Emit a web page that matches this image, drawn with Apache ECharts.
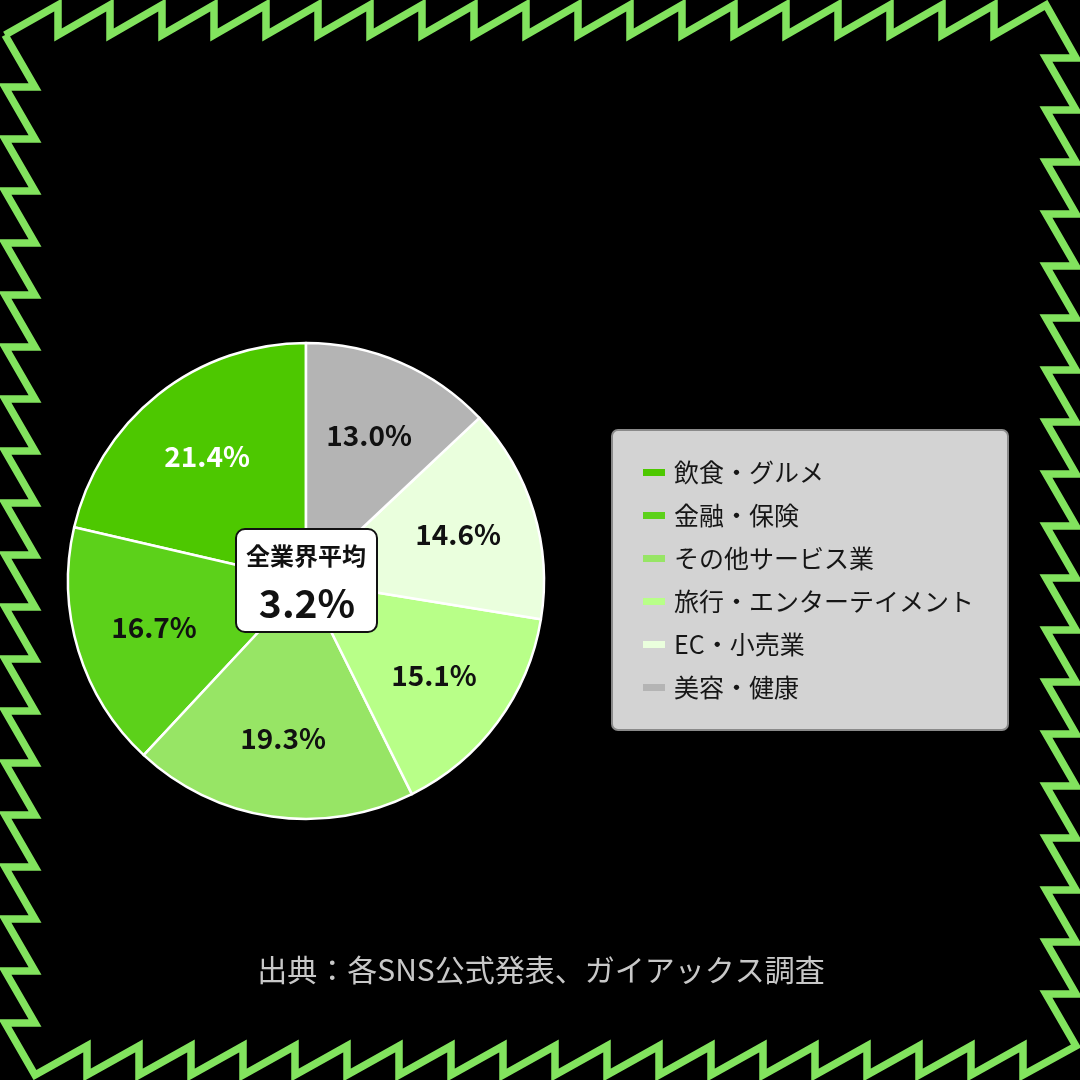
<!DOCTYPE html>
<html>
<head>
<meta charset="utf-8">
<script src="https://cdn.jsdelivr.net/npm/echarts@6/dist/echarts.min.js"></script>
<style>
  html, body { margin: 0; padding: 0; background: #000; }
  #chart { width: 1080px; height: 1080px; }
</style>
</head>
<body>
<div id="chart"></div>
<script>
// 業界ごとの割合（凡例の順）
const categories = ['飲食・グルメ', '金融・保険', 'その他サービス業', '旅行・エンターテイメント', 'EC・小売業', '美容・健康']
const shares = [21.4, 16.7, 19.3, 15.1, 14.6, 13.0]
const sliceColors = ['#4DC800', '#5CD11A', '#97E565', '#B8FF88', '#EAFFDD', '#B4B4B4']
const labelColors = ['#FFFFFF', '#111111', '#111111', '#111111', '#111111', '#111111']
const averageTitle = '全業界平均'
const averageValue = '3.2%'
const sourceText = '出典：各SNS公式発表、ガイアックス調査'

const FONT = '"Noto Sans CJK JP", "Noto Sans", sans-serif'
const chart = echarts.init(document.getElementById('chart'))

// ギザギザの枠線（装飾）
function framePoints () {
  const p = 52, n = 20
  const Lo = 5, Li = 35, To = 5, Ti = 35
  const Ro = 1076, Ri = 1046, Bo = 1075, Bi = 1046
  const pts = [[Lo, Ti]]
  // 上辺
  for (let k = n - 1; k >= 0; k--) {
    const x = Ri - k * p
    pts.push([x, To])
    if (k > 0) pts.push([x, Ti])
  }
  // 右辺
  for (let k = n - 1; k >= 0; k--) {
    const y = Bi - k * p
    pts.push([Ro, y])
    if (k > 0) pts.push([Ri, y])
  }
  // 下辺
  for (let k = n - 1; k >= 0; k--) {
    const x = Li + k * p
    pts.push([x, Bo])
    if (k > 0) pts.push([x, Bi])
  }
  // 左辺
  for (let k = n - 1; k >= 0; k--) {
    const y = Ti + k * p
    pts.push([Lo, y])
    if (k > 0) pts.push([Li, y])
  }
  return pts
}

const pieData = categories.map((name, i) => ({
  name,
  value: shares[i],
  itemStyle: { color: sliceColors[i] }
}))

const labelData = categories.map((name, i) => ({
  name,
  value: shares[i],
  label: { color: labelColors[i] }
}))

const option = {
  backgroundColor: '#000',
  animation: false,
  legend: {
    orient: 'vertical',
    left: 612,
    top: 430,
    padding: [30, 34, 30, 31],
    backgroundColor: '#D3D3D3',
    borderColor: '#8A8A8A',
    borderWidth: 2,
    borderRadius: 6,
    itemWidth: 22,
    itemHeight: 7,
    itemGap: 18,
    icon: 'rect',
    itemStyle: { borderWidth: 0 },
    textStyle: {
      fontFamily: FONT,
      fontSize: 25,
      color: '#161616',
      padding: [0, 0, 0, 4]
    },
    data: categories.map((name, i) => ({
      name,
      itemStyle: { color: sliceColors[i], borderWidth: 0 }
    }))
  },
  series: [
    {
      type: 'pie',
      center: [306, 581],
      radius: [0, 238],
      startAngle: 90,
      clockwise: false,
      silent: true,
      label: { show: false },
      labelLine: { show: false },
      itemStyle: {
        borderColor: '#FFFFFF',
        borderWidth: 2.5
      },
      data: pieData
    },
    {
      // ラベル用の透明な円
      type: 'pie',
      center: [306, 581],
      radius: [0, 312],
      startAngle: 90,
      clockwise: false,
      silent: true,
      itemStyle: { color: 'transparent' },
      emphasis: { disabled: true },
      label: {
        show: true,
        position: 'inside',
        fontFamily: FONT,
        fontSize: 28,
        fontWeight: 'bold',
        formatter: ({ value }) => value.toFixed(1) + '%'
      },
      labelLine: { show: false },
      data: labelData
    }
  ],
  graphic: [
    {
      type: 'polyline',
      shape: { points: framePoints() },
      style: {
        fill: null,
        stroke: '#82E35E',
        lineWidth: 7.5,
        lineJoin: 'miter'
      },
      z: 10
    },
    {
      type: 'rect',
      z: 100,
      shape: { x: 236, y: 529, width: 141, height: 103, r: 9 },
      style: { fill: '#FFFFFF', stroke: '#111111', lineWidth: 2 }
    },
    {
      type: 'text',
      z: 101,
      x: 306,
      y: 556,
      style: {
        text: averageTitle,
        font: 'bold 24px ' + FONT,
        fill: '#111',
        align: 'center',
        verticalAlign: 'middle'
      }
    },
    {
      type: 'text',
      z: 101,
      x: 307,
      y: 603,
      style: {
        text: averageValue,
        font: 'bold 39px ' + FONT,
        fill: '#111',
        align: 'center',
        verticalAlign: 'middle'
      }
    },
    {
      type: 'text',
      x: 541,
      y: 970,
      style: {
        text: sourceText,
        font: '30px ' + FONT,
        fill: '#C8C8C8',
        align: 'center',
        verticalAlign: 'middle'
      }
    }
  ]
}

chart.setOption(option)
</script>
</body>
</html>
